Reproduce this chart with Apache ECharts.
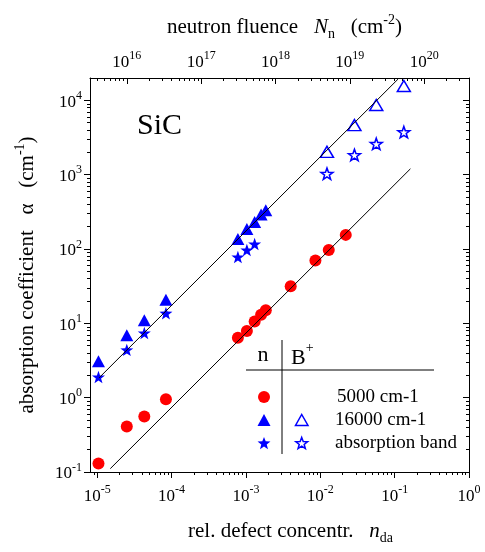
<!DOCTYPE html>
<html>
<head>
<meta charset="utf-8">
<script src="https://cdn.jsdelivr.net/npm/echarts@6/dist/echarts.min.js"></script>
<style>
  html, body { margin: 0; padding: 0; background: #fff; }
  #chart { width: 485px; height: 552px; }
</style>
</head>
<body>
<div id="chart"></div>
<script>
// Axis ranges and scale conversion between defect concentration and fluence
const xMin = 8e-6, xMax = 1;
const yMin = 0.1, yMax = 2e4;
const fluencePerDefect = 4e20;

// Decade tick values
const xMajor = [1e-5, 1e-4, 1e-3, 1e-2, 1e-1, 1];
const yMajor = [1e-1, 1, 1e1, 1e2, 1e3, 1e4];
const fluenceMajor = [1e16, 1e17, 1e18, 1e19, 1e20];

// n-type samples, 5000 cm-1
const nDa5000 = [1.04e-5, 2.5e-5, 4.3e-5, 8.4e-5, 7.8e-4, 1.03e-3, 1.31e-3, 1.6e-3, 1.85e-3, 4.0e-3, 8.6e-3, 1.3e-2, 2.2e-2];
const alpha5000 = [0.13, 0.41, 0.56, 0.95, 6.4, 7.9, 10.6, 13.1, 15, 31.5, 70, 97, 155];

// n-type samples, 16000 cm-1
const nDa16000 = [1.04e-5, 2.5e-5, 4.3e-5, 8.4e-5, 7.8e-4, 1.03e-3, 1.31e-3, 1.6e-3, 1.85e-3];
const alpha16000 = [3.1, 6.9, 11, 20.7, 136, 186, 231, 292, 332];

// n-type samples, absorption band
const nDaBand = [1.04e-5, 2.5e-5, 4.3e-5, 8.4e-5, 7.8e-4, 1.03e-3, 1.31e-3];
const alphaBand = [1.9, 4.4, 7.4, 13.7, 78, 97, 117];

// B+ implanted samples
const nDaB = [1.23e-2, 2.88e-2, 5.66e-2, 0.133];
const alpha16000B = [2030, 4650, 8650, 15600];
const alphaBandB = [1030, 1840, 2600, 3740];

// Linear fits (slope 1 on log-log)
const fitHighN = [1.06e-5, 0.111];
const fitHighAlpha = [1.85, 1.93e4];
const fitLowN = [1.5e-5, 0.163];
const fitLowAlpha = [0.111, 1200];

const SERIF = 'Liberation Serif';
const BLUE = '#0000ff';
const RED = '#ff0000';
const STAR = 'path://M0,-10L2.35,-3.24L9.51,-3.09L3.8,1.24L5.88,8.09L0,4.2L-5.88,8.09L-3.8,1.24L-9.51,-3.09L-2.35,-3.24Z';

function zip(a, b) { return a.map((v, i) => [v, b[i]]); }

// five-pointed star outline for the key
function starPoints(cx, cy, r) {
  const pts = [];
  for (let i = 0; i < 10; i++) {
    const rad = i % 2 === 0 ? r : r * 0.42;
    const a = -Math.PI / 2 + i * Math.PI / 5;
    pts.push([cx + rad * Math.cos(a), cy + rad * Math.sin(a) + r * 0.1]);
  }
  return pts;
}

// intermediate 2..9 ticks inside [lo, hi]
function minorTicks(lo, hi) {
  const out = [];
  const d0 = Math.floor(Math.log10(lo)), d1 = Math.ceil(Math.log10(hi));
  for (let d = d0; d <= d1; d++) {
    for (let k = 2; k <= 9; k++) {
      const v = k * Math.pow(10, d);
      if (v > lo * 1.0001 && v < hi * 0.9999) out.push(v);
    }
  }
  return out;
}

const tickRich = {
  b: { fontSize: 17, fontFamily: SERIF, color: '#000', lineHeight: 21, verticalAlign: 'bottom' },
  s: { fontSize: 12, fontFamily: SERIF, color: '#000', lineHeight: 21, verticalAlign: 'top' }
};
function powLabel(v) {
  const e = Math.round(Math.log10(v));
  return '{b|10}{s|' + e + '}';
}

const nameRich = {
  t: { fontSize: 21, fontFamily: SERIF, color: '#000', lineHeight: 28, verticalAlign: 'middle' },
  i: { fontSize: 21, fontFamily: SERIF, fontStyle: 'italic', color: '#000', lineHeight: 28, verticalAlign: 'middle' },
  sup: { fontSize: 14, fontFamily: SERIF, color: '#000', lineHeight: 28, verticalAlign: 'top' },
  sub: { fontSize: 14, fontFamily: SERIF, color: '#000', lineHeight: 28, verticalAlign: 'bottom' }
};

const line = { show: true, lineStyle: { color: '#000', width: 1 } };
const noLine = { show: false };

function logAxis(opts) {
  return Object.assign({
    type: 'log', logBase: 10, gridIndex: 0,
    splitLine: { show: false },
    axisLine: noLine,
    axisLabel: { show: false }
  }, opts);
}

const chart = echarts.init(document.getElementById('chart'), null, { renderer: 'canvas' });

chart.setOption({
  animation: false,
  backgroundColor: '#fff',
  grid: { left: 90, right: 16, top: 78, bottom: 80 },
  xAxis: [
    logAxis({
      position: 'bottom', min: xMin, max: xMax,
      axisLine: line,
      axisTick: { show: true, inside: false, length: 6, customValues: xMajor, lineStyle: { color: '#000' } },
      axisLabel: { show: true, margin: 12, customValues: xMajor, formatter: powLabel, rich: tickRich },
      name: '{t|rel. defect concentr.   }{i|n}{sub|da}',
      nameLocation: 'middle', nameGap: 45,
      nameTextStyle: { rich: nameRich, padding: [0, 0, 0, 22] }
    }),
    logAxis({
      position: 'bottom', min: xMin, max: xMax,
      axisTick: { show: true, inside: false, length: 3, customValues: minorTicks(xMin, xMax), lineStyle: { color: '#000' } }
    }),
    logAxis({
      position: 'top', min: xMin * fluencePerDefect, max: xMax * fluencePerDefect,
      axisLine: line,
      axisTick: { show: true, inside: true, length: 6, customValues: fluenceMajor, lineStyle: { color: '#000' } },
      axisLabel: { show: true, margin: 7, customValues: fluenceMajor, formatter: powLabel, rich: tickRich },
      name: '{t|neutron fluence   }{i|N}{sub|n}{t|   (cm}{sup|-2}{t|)}',
      nameLocation: 'middle', nameGap: 37,
      nameTextStyle: { rich: nameRich, padding: [0, 0, 0, 10] }
    }),
    logAxis({
      position: 'top', min: xMin * fluencePerDefect, max: xMax * fluencePerDefect,
      axisTick: { show: true, inside: true, length: 3, customValues: minorTicks(xMin * fluencePerDefect, xMax * fluencePerDefect), lineStyle: { color: '#000' } }
    })
  ],
  yAxis: [
    logAxis({
      position: 'left', min: yMin, max: yMax,
      axisLine: line,
      axisTick: { show: true, inside: false, length: 6, customValues: yMajor, lineStyle: { color: '#000' } },
      axisLabel: { show: true, margin: 8, customValues: yMajor, formatter: powLabel, rich: tickRich },
      name: '{t|absorption coefficient   α   (cm}{sup|-1}{t|)}',
      nameLocation: 'middle', nameGap: 49, nameRotate: 90,
      nameTextStyle: { rich: nameRich }
    }),
    logAxis({
      position: 'left', min: yMin, max: yMax,
      axisTick: { show: true, inside: false, length: 3, customValues: minorTicks(yMin, yMax), lineStyle: { color: '#000' } }
    }),
    logAxis({
      position: 'right', min: yMin, max: yMax,
      axisLine: line,
      axisTick: { show: true, inside: true, length: 6, customValues: yMajor, lineStyle: { color: '#000' } }
    }),
    logAxis({
      position: 'right', min: yMin, max: yMax,
      axisTick: { show: true, inside: true, length: 3, customValues: minorTicks(yMin, yMax), lineStyle: { color: '#000' } }
    })
  ],
  series: [
    {
      type: 'line', xAxisIndex: 0, yAxisIndex: 0, silent: true,
      data: zip(fitHighN, fitHighAlpha), symbol: 'none',
      lineStyle: { color: '#000', width: 1 }
    },
    {
      type: 'line', xAxisIndex: 0, yAxisIndex: 0, silent: true,
      data: zip(fitLowN, fitLowAlpha), symbol: 'none',
      lineStyle: { color: '#000', width: 1 }
    },
    {
      name: 'n 5000 cm-1', type: 'scatter', xAxisIndex: 0, yAxisIndex: 0,
      data: zip(nDa5000, alpha5000), symbol: 'circle', symbolSize: 12,
      itemStyle: { color: RED, opacity: 1 }
    },
    {
      name: 'n 16000 cm-1', type: 'scatter', xAxisIndex: 0, yAxisIndex: 0,
      data: zip(nDa16000, alpha16000), symbol: 'triangle', symbolSize: [13, 12],
      itemStyle: { color: BLUE, opacity: 1 }
    },
    {
      name: 'n absorption band', type: 'scatter', xAxisIndex: 0, yAxisIndex: 0,
      data: zip(nDaBand, alphaBand), symbol: STAR, symbolSize: [13, 12.4],
      itemStyle: { color: BLUE, opacity: 1 }
    },
    {
      name: 'B+ 16000 cm-1', type: 'scatter', xAxisIndex: 0, yAxisIndex: 0,
      data: zip(nDaB, alpha16000B), symbol: 'triangle', symbolSize: [13, 11],
      itemStyle: { color: '#fff', borderColor: BLUE, borderWidth: 1.5, opacity: 1 }
    },
    {
      name: 'B+ absorption band', type: 'scatter', xAxisIndex: 0, yAxisIndex: 0,
      data: zip(nDaB, alphaBandB), symbol: STAR, symbolSize: [12, 11.4],
      itemStyle: { color: '#fff', borderColor: BLUE, borderWidth: 1.5, opacity: 1 }
    }
  ],
  graphic: [
    { type: 'text', x: 137, y: 111, style: { text: 'SiC', font: '30px "Liberation Serif"', fill: '#000' } },
    // key table
    { type: 'line', shape: { x1: 246, y1: 370, x2: 434, y2: 370 }, style: { stroke: '#000', lineWidth: 1 } },
    { type: 'line', shape: { x1: 282, y1: 340, x2: 282, y2: 454 }, style: { stroke: '#000', lineWidth: 1 } },
    { type: 'text', x: 263, y: 355, style: { text: 'n', font: '22px "Liberation Serif"', fill: '#000', align: 'center', verticalAlign: 'middle' } },
    { type: 'text', x: 291, y: 355, style: {
        text: '{b|B}{s|+}', verticalAlign: 'middle', align: 'left',
        rich: {
          b: { fontSize: 22, fontFamily: SERIF, fill: '#000', lineHeight: 28, verticalAlign: 'bottom' },
          s: { fontSize: 14, fontFamily: SERIF, fill: '#000', lineHeight: 28, verticalAlign: 'top' }
        } } },
    { type: 'circle', shape: { cx: 264, cy: 397, r: 6 }, style: { fill: RED } },
    { type: 'polygon', shape: { points: [[257.5, 426], [270.5, 426], [264, 414]] }, style: { fill: BLUE } },
    { type: 'polygon', shape: { points: starPoints(264, 443, 6.8) }, style: { fill: BLUE } },
    { type: 'polygon', shape: { points: [[295.5, 425.5], [308, 425.5], [301.7, 414.5]] }, style: { fill: '#fff', stroke: BLUE, lineWidth: 1.5 } },
    { type: 'polygon', shape: { points: starPoints(301.7, 443, 6.2) }, style: { fill: '#fff', stroke: BLUE, lineWidth: 1.5 } },
    { type: 'text', x: 337, y: 397, style: { text: '5000 cm-1', font: '19px "Liberation Serif"', fill: '#000', verticalAlign: 'middle' } },
    { type: 'text', x: 335, y: 420, style: { text: '16000 cm-1', font: '19px "Liberation Serif"', fill: '#000', verticalAlign: 'middle' } },
    { type: 'text', x: 335, y: 443, style: { text: 'absorption band', font: '19px "Liberation Serif"', fill: '#000', verticalAlign: 'middle' } }
  ]
});
</script>
</body>
</html>
